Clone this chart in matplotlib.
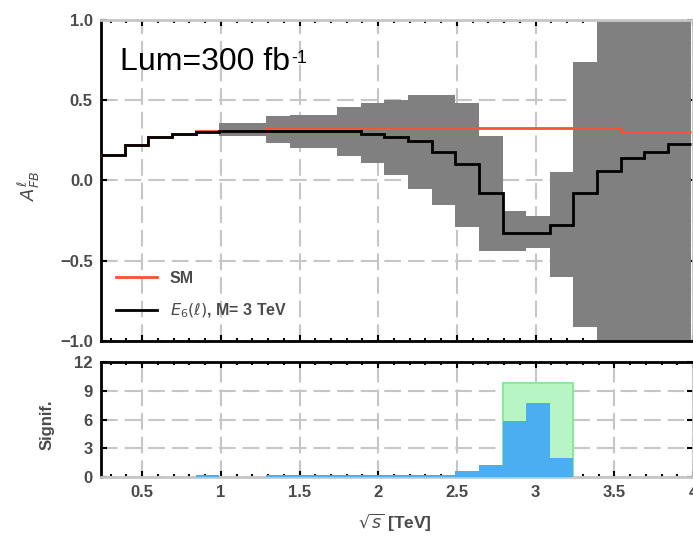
import matplotlib
matplotlib.use("Agg")
import matplotlib.pyplot as plt
import numpy as np

plt.rcParams['font.family'] = ['Liberation Sans', 'DejaVu Sans']
plt.rcParams['lines.scale_dashes'] = False

# bin edges in sqrt(s) [TeV]
edges = [0.24, 0.39, 0.54, 0.69, 0.84, 0.99, 1.14, 1.29, 1.44, 1.59, 1.74, 1.89, 2.04,
         2.19, 2.34, 2.49, 2.64, 2.79, 2.94, 3.09, 3.24, 3.39, 3.54, 3.69, 3.84, 3.99]

afb_sm = [0.16, 0.22, 0.27, 0.29, 0.31, 0.31, 0.31, 0.33, 0.33, 0.33, 0.33, 0.33, 0.33,
          0.33, 0.33, 0.33, 0.33, 0.33, 0.33, 0.33, 0.33, 0.33, 0.305, 0.305, 0.305]
afb_e6 = [0.16, 0.22, 0.27, 0.29, 0.30, 0.31, 0.31, 0.31, 0.31, 0.31, 0.31, 0.29, 0.27,
          0.245, 0.18, 0.10, -0.075, -0.33, -0.33, -0.28, -0.075, 0.06, 0.14, 0.18, 0.23]

# uncertainty band of E6 (bins 5..24)
band_first = 5
band_hi = [0.36, 0.36, 0.40, 0.41, 0.41, 0.46, 0.48, 0.50, 0.535, 0.535, 0.48, 0.276,
           -0.19, -0.22, 0.05, 0.74, 1.2, 1.2, 1.2, 1.2]
band_lo = [0.275, 0.275, 0.235, 0.20, 0.20, 0.15, 0.11, 0.037, -0.056, -0.15, -0.29, -0.44,
           -0.44, -0.42, -0.60, -0.91, -1.2, -1.2, -1.2, -1.2]

signif = [0, 0, 0, 0, 0.25, 0, 0, 0.25, 0.25, 0.25, 0.25, 0.25, 0.25, 0.25, 0.25,
          0.6, 1.3, 5.8, 7.75, 2.0, 0, 0, 0, 0, 0]
# combined significance of the peak bins
comb_lo, comb_hi, comb_val = 2.79, 3.24, 9.85

xticks = [0.5, 1, 1.5, 2, 2.5, 3, 3.5, 4]
xticklabels = ['0.5', '1', '1.5', '2', '2.5', '3', '3.5', '4']

edges = np.array(edges)
widths = np.diff(edges)

fig = plt.figure(figsize=(6.93, 5.38), dpi=100)
ax1 = fig.add_axes([0.146, 0.3662, 0.854, 0.5966])
ax2 = fig.add_axes([0.146, 0.1134, 0.854, 0.2137])

gridkw = dict(color='#c6c6c6', linewidth=1.5, linestyle=(0, (12, 5)))
tickcol = '#4a4a4a'

for ax in (ax1, ax2):
    ax.set_xlim(0.24, 4.0)
    ax.set_xticks(xticks)
    ax.set_xticklabels(xticklabels)
    ax.set_xticks(np.arange(0.3, 4.0, 0.1), minor=True)
    ax.grid(True, which='major', **gridkw)
    ax.set_axisbelow(True)
    ax.tick_params(which='major', direction='in', length=4, width=1.5, top=True, right=True,
                   labelsize=12, labelcolor=tickcol, pad=6)
    ax.tick_params(which='minor', direction='in', length=2, width=1.5, top=True, right=False)
    for lab in ax.get_xticklabels() + ax.get_yticklabels():
        lab.set_fontweight('bold')
    for s in ax.spines.values():
        s.set_linewidth(2)

ax1.spines['top'].set_color('#c6c6c6')
ax1.spines['right'].set_color('#c6c6c6')
ax2.spines['bottom'].set_color('#c6c6c6')
ax2.spines['right'].set_color('#c6c6c6')

# top panel
ax1.bar(edges[band_first:-1], np.array(band_hi) - np.array(band_lo), width=widths[band_first:],
        bottom=band_lo, align='edge', color='#808080', linewidth=0, zorder=2)
ax1.stairs(afb_sm, edges, color='#ff5035', linewidth=2, baseline=None, zorder=3, label='SM')
ax1.stairs(afb_e6, edges, color='black', linewidth=2, baseline=None, zorder=4,
           label=r'$E_6(\ell)$, M= 3 TeV')
ax1.set_ylim(-1.0, 1.0)
ax1.set_yticks([-1.0, -0.5, 0.0, 0.5, 1.0])
ax1.set_yticklabels(['\u22121.0', '\u22120.5', '0.0', '0.5', '1.0'], fontweight='bold')
ax1.tick_params(axis='x', labelbottom=False)
lum = ax1.text(0.031, 0.845, 'Lum=300 fb', transform=ax1.transAxes, fontsize=23,
               color='black')
ax1.annotate('-1', xy=(1.0, 1.0), xycoords=lum, xytext=(1, -2), textcoords='offset points',
             fontsize=13, va='top', ha='left')
leg = ax1.legend(loc='lower left', bbox_to_anchor=(0.0, 0.02), frameon=False, fontsize=11.5,
                 handlelength=2.6, labelspacing=1.0, handletextpad=0.8, labelcolor=tickcol)
for t in leg.get_texts():
    t.set_fontweight('bold')

# bottom panel
ax2.bar(comb_lo, comb_val, width=comb_hi - comb_lo, align='edge', color='#b8f5c4',
        edgecolor='#8ee89c', linewidth=1.5, zorder=2)
ax2.bar(edges[:-1], signif, width=widths, align='edge', color='#4aaef0', linewidth=0, zorder=3)
ax2.set_ylim(0, 12)
ax2.set_yticks([0, 3, 6, 9, 12])
ax2.set_yticklabels(['0', '3', '6', '9', '12'], fontweight='bold')

fig.text(0.043, 0.655, r'$A^{\ell}_{FB}$', rotation=90, fontsize=13, color=tickcol,
         ha='center', va='center')
fig.text(0.068, 0.21, 'Signif.', rotation=90, fontsize=12, color=tickcol,
         ha='center', va='center', fontweight='bold')
fig.text(0.57, 0.028, r'$\sqrt{s}$ [TeV]', fontsize=12.5, color=tickcol, ha='center',
         va='center', fontweight='bold')

fig.savefig('out.png', dpi=100)
